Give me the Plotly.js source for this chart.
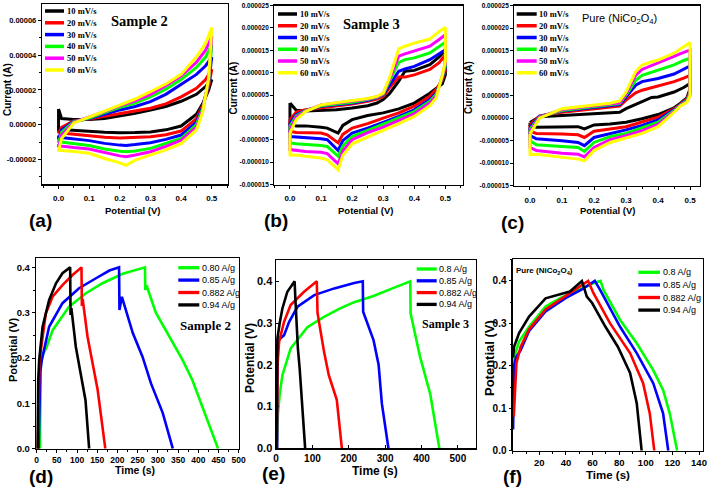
<!DOCTYPE html>
<html>
<head>
<meta charset="utf-8">
<script src="https://cdn.plot.ly/plotly-3.0.1.min.js"></script>
<style>html,body{margin:0;padding:0;background:#fff;}#chart{width:709px;height:488px;}</style>
</head>
<body>
<div id="chart"></div>
<script>
// ---------------- DATA ----------------
// CV series (scan rates) — shared by panels (a), (b), (c)
const CV_LABELS = ['10 mV/s','20 mV/s','30 mV/s','40 mV/s','50 mV/s','60 mV/s'];
const CV_COLORS = ['#000000','#ff0000','#0000ff','#00ff00','#ff00ff','#ffff00'];

// Panel (a) Sample 2 — current in units of 1e-5 A
const A_UNIT = 1e-5;
const A_UP_X = [0, 0.01, 0.05, 0.1, 0.15, 0.2, 0.25, 0.3, 0.35, 0.4, 0.45, 0.48, 0.5];
const A_UP = [
  [0.9, 0.35, 0.3, 0.3, 0.35, 0.5, 0.65, 0.85, 1.05, 1.35, 1.75, 2.2, 2.6],
  [-0.5, -0.15, 0.23, 0.33, 0.48, 0.65, 0.8, 0.95, 1.2, 1.6, 2.1, 2.6, 3.2],
  [-0.85, -0.3, 0.2, 0.36, 0.6, 0.85, 1.05, 1.33, 1.75, 2.3, 2.9, 3.4, 3.9],
  [-1.05, -0.45, 0.17, 0.38, 0.7, 1.0, 1.25, 1.6, 2.05, 2.6, 3.3, 3.9, 4.6],
  [-1.3, -0.6, 0.13, 0.42, 0.75, 1.08, 1.38, 1.75, 2.25, 2.8, 3.6, 4.3, 5.1],
  [-1.55, -0.8, 0.1, 0.42, 0.78, 1.13, 1.48, 1.9, 2.35, 2.9, 3.9, 4.7, 5.6]
];
const A_DN_X = [0.49, 0.47, 0.45, 0.4, 0.35, 0.3, 0.25, 0.22, 0.2, 0.15, 0.1, 0.05, 0.02, 0];
const A_DN = [
  [2.0, 1.2, 0.6, -0.08, -0.3, -0.42, -0.45, -0.46, -0.46, -0.44, -0.37, -0.33, -0.3, -0.28],
  [2.2, 1.1, 0.35, -0.37, -0.58, -0.7, -0.75, -0.77, -0.77, -0.73, -0.63, -0.55, -0.5, -0.46],
  [2.4, 1.0, 0.15, -0.6, -0.85, -1.04, -1.15, -1.2, -1.18, -1.08, -0.92, -0.82, -0.75, -0.72],
  [2.5, 0.9, 0.0, -0.8, -1.1, -1.37, -1.52, -1.56, -1.53, -1.4, -1.2, -1.08, -1.0, -0.98],
  [2.6, 0.8, -0.15, -0.9, -1.25, -1.56, -1.75, -1.85, -1.8, -1.62, -1.4, -1.32, -1.27, -1.22],
  [2.7, 0.7, -0.3, -1.1, -1.45, -1.75, -2.05, -2.35, -2.2, -1.95, -1.65, -1.55, -1.5, -1.48]
];

// Panel (b) Sample 3 — current in units of 1e-6 A
const B_UNIT = 1e-6;
const B_UP_X = [0, 0.02, 0.05, 0.1, 0.15, 0.2, 0.25, 0.28, 0.3, 0.32, 0.35, 0.37, 0.4, 0.45, 0.48, 0.5];
const B_UP = [
  [3.2, 1.6, 1.4, 1.5, 1.7, 2.1, 2.6, 3.2, 4.0, 5.3, 8.1, 10.3, 10.5, 11.8, 13.5, 15.0],
  [-0.5, 1.2, 1.7, 2.1, 2.5, 3.0, 3.6, 4.1, 4.7, 6.6, 9.0, 9.0, 9.5, 10.7, 12.2, 14.0],
  [-1.3, 0.6, 1.5, 2.5, 2.8, 3.2, 3.8, 4.4, 5.1, 7.3, 10.3, 10.8, 11.4, 12.9, 14.2, 15.1],
  [-2.0, 0.3, 1.5, 2.6, 3.0, 3.4, 4.0, 4.5, 5.2, 8.1, 12.3, 12.9, 13.3, 14.4, 15.8, 16.8],
  [-2.8, 0.0, 1.4, 2.8, 3.2, 3.6, 4.1, 4.6, 5.3, 8.4, 13.7, 14.2, 14.8, 15.9, 17.4, 18.5],
  [-3.5, -0.5, 1.3, 2.8, 3.3, 3.7, 4.2, 4.7, 5.4, 8.8, 15.3, 15.9, 16.6, 17.5, 19.2, 20.1]
];
const B_DN_X = [0.5, 0.49, 0.47, 0.45, 0.4, 0.35, 0.3, 0.25, 0.2, 0.17, 0.155, 0.12, 0.1, 0.05, 0.02, 0];
const B_DN = [
  [9.5, 7.5, 6.5, 5.4, 3.2, 1.9, 1.0, 0.4, -0.5, -1.8, -3.5, -2.4, -2.2, -1.9, -1.9, -1.5],
  [10.5, 8.4, 6.2, 4.7, 2.5, 1.0, -0.15, -1.4, -2.4, -3.8, -5.7, -3.9, -3.5, -3.4, -3.4, -3.1],
  [11.0, 8.8, 5.4, 4.0, 1.7, 0.2, -1.1, -2.4, -3.5, -5.2, -7.4, -5.0, -4.8, -4.6, -4.4, -4.3],
  [11.5, 9.0, 5.1, 3.6, 1.3, -0.15, -1.6, -2.9, -4.3, -6.4, -8.7, -6.5, -6.3, -6.1, -5.9, -5.7],
  [12.0, 9.2, 4.7, 3.2, 0.8, -0.7, -2.2, -3.4, -5.0, -7.5, -10.4, -8.1, -7.8, -7.6, -7.4, -7.2],
  [12.5, 9.4, 4.3, 2.6, 0.2, -1.4, -2.9, -4.3, -5.9, -8.5, -11.7, -9.5, -9.1, -8.7, -8.4, -8.4]
];

// Panel (c) Pure NiCo2O4 — current in units of 1e-6 A
const C_UNIT = 1e-6;
const C_UP_X = [0, 0.03, 0.1, 0.15, 0.2, 0.25, 0.28, 0.3, 0.33, 0.35, 0.38, 0.4, 0.45, 0.48, 0.5];
const C_UP = [
  [-1.0, 0.3, 0.6, 0.8, 1.0, 1.1, 1.3, 2.1, 3.0, 3.6, 4.6, 4.7, 5.8, 6.8, 7.7],
  [-1.5, 0.5, 1.3, 1.7, 2.1, 2.4, 2.7, 4.0, 5.6, 6.2, 6.8, 7.1, 8.1, 8.9, 9.5],
  [-2.0, 0.4, 1.6, 2.0, 2.3, 2.7, 3.0, 4.7, 7.3, 8.1, 8.5, 8.8, 9.8, 10.9, 11.6],
  [-2.5, 0.3, 1.7, 2.1, 2.5, 2.9, 3.2, 5.1, 8.4, 9.5, 10.2, 10.7, 11.8, 12.8, 13.3],
  [-3.0, 0.2, 1.9, 2.3, 2.6, 3.0, 3.4, 5.4, 9.5, 10.8, 11.7, 12.2, 13.7, 14.6, 15.1],
  [-3.5, 0.0, 2.1, 2.5, 2.8, 3.3, 3.8, 5.8, 10.3, 11.8, 12.5, 12.9, 14.4, 15.8, 16.8]
];
const C_DN_X = [0.5, 0.49, 0.47, 0.45, 0.4, 0.35, 0.3, 0.25, 0.2, 0.17, 0.15, 0.1, 0.05, 0.02, 0];
const C_DN = [
  [6.5, 4.5, 3.3, 2.3, 0.8, -0.15, -0.9, -1.3, -1.5, -2.4, -1.9, -1.9, -2.0, -2.0, -1.6],
  [6.0, 4.3, 3.1, 2.1, 0.2, -0.9, -1.9, -2.4, -2.9, -4.3, -3.7, -3.5, -3.5, -3.4, -2.9],
  [5.5, 4.1, 3.0, 1.9, -0.4, -1.6, -2.6, -3.4, -4.3, -6.1, -5.4, -5.0, -4.8, -4.6, -3.9],
  [5.5, 3.9, 2.9, 1.7, -0.9, -2.2, -3.4, -4.1, -5.4, -7.4, -6.5, -6.3, -6.1, -5.9, -5.0],
  [5.0, 3.7, 2.8, 1.5, -1.4, -2.8, -3.9, -4.8, -6.5, -8.6, -8.0, -7.8, -7.4, -7.2, -6.5],
  [5.0, 3.5, 2.7, 1.3, -1.9, -3.4, -4.4, -5.4, -7.2, -9.5, -9.1, -8.7, -8.4, -8.0, -8.1]
];

// GCD series
const GCD_COLORS = ['#00ff00','#0000ff','#ff0000','#000000'];
const D_LABELS = ['0.80 A/g','0.85 A/g','0.882 A/g','0.94 A/g'];
const EF_LABELS = ['0.8 A/g','0.85 A/g','0.882 A/g','0.94 A/g'];

// Panel (d) Sample 2 — time (s), potential (V)
const D_T = [
  [8, 10.5, 14, 25, 40, 80, 122, 163, 213, 268, 269, 272, 295, 328, 361, 385, 417, 449],
  [5, 7, 9, 13, 31, 64, 105, 147, 180, 204, 205, 211, 238, 262, 283, 312, 337],
  [3, 5, 7, 10.6, 23, 40, 64, 89, 111, 112, 114, 126, 143, 151, 170],
  [2.5, 4, 6.4, 14.8, 31, 48, 64, 83, 84, 86, 97, 113, 121, 130]
];
const D_V = [
  [0, 0.19, 0.205, 0.225, 0.262, 0.313, 0.343, 0.365, 0.386, 0.40, 0.35, 0.36, 0.30, 0.247, 0.196, 0.152, 0.078, 0],
  [0, 0.12, 0.17, 0.196, 0.269, 0.321, 0.354, 0.376, 0.393, 0.40, 0.306, 0.335, 0.255, 0.203, 0.144, 0.079, 0],
  [0, 0.15, 0.19, 0.218, 0.299, 0.336, 0.361, 0.383, 0.40, 0.315, 0.33, 0.247, 0.166, 0.13, 0],
  [0, 0.15, 0.196, 0.269, 0.328, 0.365, 0.387, 0.40, 0.295, 0.31, 0.225, 0.144, 0.107, 0]
];

// Panel (e) Sample 3
const E_T = [
  [2, 5, 10, 17.4, 40, 86, 132, 176, 215, 268, 320, 369, 370, 396, 424, 449],
  [3, 3.7, 10, 22, 36, 59, 105, 160, 215, 238.5, 239.5, 268, 282, 291, 309],
  [2, 4, 8.3, 22, 40, 77, 112, 114, 118, 132, 145, 167, 181],
  [1, 2, 3.7, 10, 17.4, 31, 51, 53, 56, 60, 65, 70, 75, 80]
];
const E_V = [
  [0, 0.08, 0.13, 0.175, 0.239, 0.29, 0.315, 0.335, 0.35, 0.365, 0.383, 0.40, 0.323, 0.219, 0.13, 0],
  [0, 0.255, 0.262, 0.271, 0.303, 0.339, 0.367, 0.383, 0.396, 0.40, 0.327, 0.259, 0.2, 0.107, 0],
  [0, 0.2, 0.255, 0.303, 0.343, 0.375, 0.40, 0.325, 0.303, 0.231, 0.175, 0.116, 0],
  [0, 0.2, 0.263, 0.3, 0.335, 0.375, 0.40, 0.36, 0.30, 0.24, 0.19, 0.13, 0.07, 0]
];

// Panel (f) Pure NiCo2O4
const F_T = [
  [0.3, 1, 4.8, 12.3, 24.7, 36, 49.7, 61, 66, 68.2, 80.7, 93.2, 105.6, 113, 118, 123.6],
  [0.3, 1, 2.5, 6, 12.3, 24.7, 40, 52, 61.7, 65.7, 80.7, 93.2, 105.6, 113, 116.9],
  [0.8, 2.8, 6, 12.3, 24.7, 40, 50, 56.7, 60.7, 73.2, 88.2, 98, 103, 106.4],
  [0.3, 1, 4.8, 12.3, 24.7, 43, 52, 55.7, 59.7, 69.7, 79, 88.2, 93.2, 96.9]
];
const F_V = [
  [0.2, 0.22, 0.257, 0.292, 0.34, 0.36, 0.379, 0.395, 0.40, 0.379, 0.308, 0.253, 0.19, 0.143, 0.088, 0],
  [0.05, 0.2, 0.22, 0.237, 0.282, 0.328, 0.36, 0.38, 0.40, 0.379, 0.292, 0.23, 0.159, 0.088, 0],
  [0.08, 0.206, 0.245, 0.286, 0.333, 0.365, 0.385, 0.40, 0.371, 0.30, 0.23, 0.159, 0.088, 0],
  [0.22, 0.245, 0.277, 0.316, 0.359, 0.375, 0.40, 0.363, 0.348, 0.292, 0.245, 0.183, 0.112, 0]
];

// Tick labels
const CV_X_TICKS = [0, 0.1, 0.2, 0.3, 0.4, 0.5];
const CV_X_TEXT = ['0.0','0.1','0.2','0.3','0.4','0.5'];
const A_Y_TICKS = [-0.00002, 0, 0.00002, 0.00004, 0.00006];
const A_Y_TEXT = ['-0.00002','0.00000','0.00002','0.00004','0.00006'];
const BC_Y_TICKS = [-0.000015, -0.00001, -0.000005, 0, 0.000005, 0.00001, 0.000015, 0.00002, 0.000025];
const BC_Y_TEXT = ['-0.000015','-0.000010','-0.000005','0.000000','0.000005','0.000010','0.000015','0.000020','0.000025'];
const V_TICKS = [0, 0.1, 0.2, 0.3, 0.4];
const V_TEXT = ['0.0','0.1','0.2','0.3','0.4'];
const D_X_TICKS = [0,50,100,150,200,250,300,350,400,450,500];
const E_X_TICKS = [0,100,200,300,400,500];
const F_X_TICKS = [20,40,60,80,100,120,140];

// ---------------- DRAWING ----------------
const W = 709, H = 488;
const SANS = 'Liberation Sans, Arial, sans-serif';
const SERIF = 'Liberation Serif, Times New Roman, serif';
const fx = p => p / W, fy = p => 1 - p / H;

const traces = [];
function addCV(upX, up, dnX, dn, unit, ax) {
  for (let i = 0; i < up.length; i++) {
    const x = upX.concat(dnX, [upX[0]]);
    const y = up[i].concat(dn[i], [up[i][0]]).map(v => v * unit);
    traces.push({type:'scatter', mode:'lines', x, y, xaxis:'x'+ax, yaxis:'y'+ax,
      line:{color:CV_COLORS[i], width:3}, showlegend:false, hoverinfo:'skip'});
  }
}
function addGCD(T, V, ax) {
  for (let i = 0; i < T.length; i++) {
    traces.push({type:'scatter', mode:'lines', x:T[i], y:V[i], xaxis:'x'+ax, yaxis:'y'+ax,
      line:{color:GCD_COLORS[i], width:2.6}, showlegend:false, hoverinfo:'skip'});
  }
}
addCV(A_UP_X, A_UP, A_DN_X, A_DN, A_UNIT, '');
addCV(B_UP_X, B_UP, B_DN_X, B_DN, B_UNIT, '2');
addCV(C_UP_X, C_UP, C_DN_X, C_DN, C_UNIT, '3');
addGCD(D_T, D_V, '4');
addGCD(E_T, E_V, '5');
addGCD(F_T, F_V, '6');

function axis(dom, range, anchor, tv, tt, fsize, extra) {
  return Object.assign({
    domain: dom, range: range, anchor: anchor, tickmode: 'array', tickvals: tv, ticktext: tt,
    showline: true, mirror: true, linecolor: '#000', linewidth: 1.2,
    ticks: 'outside', ticklen: 3, tickwidth: 1, tickcolor: '#000',
    showgrid: false, zeroline: false,
    tickfont: {family: SANS, size: fsize, color: '#000', weight: 'bold'}
  }, extra || {});
}

const layout = {
  width: W, height: H, margin: {l:0, r:0, t:0, b:0},
  paper_bgcolor: '#fff', plot_bgcolor: '#fff', showlegend: false,
  // (a)
  xaxis:  axis([fx(42), fx(228)], [-0.054, 0.553], 'y', CV_X_TICKS, CV_X_TEXT, 8,
           {minor:{dtick:0.05, tick0:0, ticks:'outside', ticklen:2, tickcolor:'#000'}, ticklabelstandoff: 3}),
  yaxis:  axis([fy(184.3), fy(4)], [-0.0000344, 0.0000696], 'x', A_Y_TICKS, A_Y_TEXT, 7.5,
           {minor:{dtick:0.00001, tick0:0, ticks:'outside', ticklen:2, tickcolor:'#000'}}),
  // (b)
  xaxis2: axis([fx(274.3), fx(462.7)], [-0.0504, 0.5557], 'y2', CV_X_TICKS, CV_X_TEXT, 8,
           {minor:{dtick:0.05, tick0:0, ticks:'outside', ticklen:2, tickcolor:'#000'}, ticklabelstandoff: 3}),
  yaxis2: axis([fy(184.5), fy(5.5)], [-0.000015, 0.000025], 'x2', BC_Y_TICKS, BC_Y_TEXT, 6.5),
  // (c)
  xaxis3: axis([fx(514.3), fx(700)], [-0.049, 0.531], 'y3', CV_X_TICKS, CV_X_TEXT, 8,
           {minor:{dtick:0.05, tick0:0, ticks:'outside', ticklen:2, tickcolor:'#000'}, ticklabelstandoff: 3}),
  yaxis3: axis([fy(185.7), fy(5.5)], [-0.000015, 0.000025], 'x3', BC_Y_TICKS, BC_Y_TEXT, 6.5),
  // (d)
  xaxis4: axis([fx(36), fx(238.7)], [-1.5, 500], 'y4', D_X_TICKS, D_X_TICKS.map(String), 8.5,
           {minor:{dtick:25, tick0:0, ticks:'outside', ticklen:2, tickcolor:'#000'}}),
  yaxis4: axis([fy(448.7), fy(258.3)], [0, 0.42], 'x4', V_TICKS, V_TEXT, 9.5,
           {minor:{dtick:0.05, tick0:0, ticks:'outside', ticklen:2, tickcolor:'#000'}}),
  // (e)
  xaxis5: axis([fx(275.7), fx(475.7)], [-1, 549], 'y5', E_X_TICKS, E_X_TICKS.map(String), 10,
           {ticks:'inside', ticklen:3, ticklabelstandoff: 0}),
  yaxis5: axis([fy(448.3), fy(260)], [0, 0.451], 'x5', V_TICKS, V_TEXT, 11,
           {ticks:'inside', ticklen:3}),
  // (f)
  xaxis6: axis([fx(512.7), fx(703)], [0, 143], 'y6', F_X_TICKS, F_X_TICKS.map(String), 9.5,
           {minor:{dtick:10, tick0:0, ticks:'outside', ticklen:2, tickcolor:'#000'}}),
  yaxis6: axis([fy(450.7), fy(259.3)], [0, 0.451], 'x6', V_TICKS, V_TEXT, 10,
           {minor:{dtick:0.05, tick0:0, ticks:'outside', ticklen:2, tickcolor:'#000'}}),
  annotations: [],
  shapes: []
};

function ann(text, x, y, size, family, extra) {
  layout.annotations.push(Object.assign({
    text: text, x: fx(x), y: fy(y), xref: 'paper', yref: 'paper', showarrow: false,
    xanchor: 'center', yanchor: 'middle',
    font: {family: family, size: size, color: '#000'}
  }, extra || {}));
}
function legend(labels, colors, x0, x1, y0, dy, size, family, bold, lw) {
  for (let i = 0; i < labels.length; i++) {
    const y = y0 + i * dy;
    layout.shapes.push({type:'line', xref:'paper', yref:'paper', x0: fx(x0), x1: fx(x1), y0: fy(y), y1: fy(y),
      line:{color: colors[i], width: lw}});
    ann(bold ? '<b>' + labels[i] + '</b>' : labels[i], x1 + 0.5, y, size, family, {xanchor:'left'});
  }
}

// Legends
legend(CV_LABELS, CV_COLORS, 45, 64, 11, 11.8, 8.5, SERIF, true, 3.5);
legend(CV_LABELS, CV_COLORS, 278, 297, 14, 11.75, 8.5, SERIF, true, 3.5);
legend(CV_LABELS, CV_COLORS, 516.7, 536.7, 14, 11.75, 8.5, SERIF, true, 3.5);
legend(D_LABELS, GCD_COLORS, 178.3, 199.3, 267.7, 12.4, 9, SANS, false, 3.3);
legend(EF_LABELS, GCD_COLORS, 416.7, 436.7, 269, 11.8, 9, SANS, false, 3.3);
legend(EF_LABELS, GCD_COLORS, 638.3, 660, 272.3, 12.6, 9, SANS, false, 3.3);

// Sample labels
ann('<b>Sample 2</b>', 139, 21, 14.5, SERIF);
ann('<b>Sample 3</b>', 371, 24, 14.5, SERIF);
ann('Pure (NiCo<sub>2</sub>O<sub>4</sub>)', 619, 19, 11, SANS);
ann('<b>Sample 2</b>', 205.5, 325, 13, SERIF);
ann('<b>Sample 3</b>', 445, 324, 12, SERIF);
ann('<b>Pure (NiCo<sub>2</sub>O<sub>4</sub>)</b>', 544, 271, 8, SANS);

// Axis titles
ann('<b>Potential (V)</b>', 132, 210.5, 9.5, SANS);
ann('<b>Potential (V)</b>', 365.5, 210.5, 9.5, SANS);
ann('<b>Potential (V)</b>', 607.5, 210.5, 9.5, SANS);
ann('<b>Current (A)</b>', 7, 90, 10, SANS, {textangle:-90});
ann('<b>Current (A)</b>', 233.5, 88, 10, SANS, {textangle:-90});
ann('<b>Current (A)</b>', 469, 88, 10, SANS, {textangle:-90});
ann('<b>Potential (V)</b>', 13, 350, 11, SANS, {textangle:-90});
ann('<b>Potential (V)</b>', 250, 358, 12, SANS, {textangle:-90});
ann('<b>Potential (V)</b>', 489, 358, 13, SANS, {textangle:-90});
ann('<b>Time (s)</b>', 134.5, 470, 10.5, SANS);
ann('<b>Time (s)</b>', 375, 471, 12, SANS);
ann('<b>Time (s)</b>', 608, 475, 11.5, SANS);

// Panel letters
ann('<b>(a)</b>', 40.5, 221, 19, SANS);
ann('<b>(b)</b>', 275.5, 221, 19, SANS);
ann('<b>(c)</b>', 512.5, 222, 19, SANS);
ann('<b>(d)</b>', 41, 476.5, 19, SANS);
ann('<b>(e)</b>', 273.5, 473, 19, SANS);
ann('<b>(f)</b>', 512.5, 476.5, 19, SANS);

Plotly.newPlot('chart', traces, layout, {staticPlot: true, displayModeBar: false});
</script>
</body>
</html>
